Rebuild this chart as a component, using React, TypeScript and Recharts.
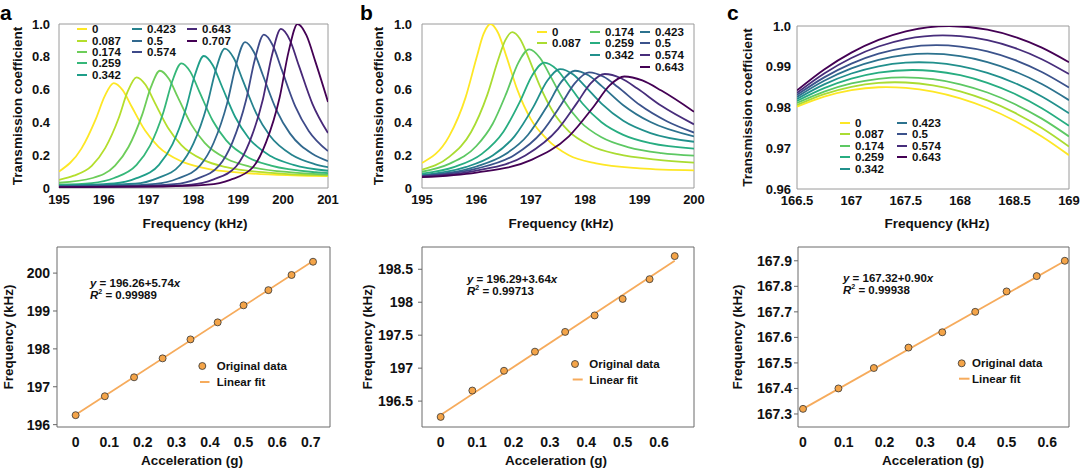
import React from 'react';
import { LineChart, ComposedChart, Line, Scatter, XAxis, YAxis, ReferenceArea, Legend, Label } from 'recharts';

const FONT = '"Liberation Sans", Arial, Helvetica, sans-serif';
type P = [number, number];

// ---------------- Panel a (top) ----------------
const A_NAMES = ['0', '0.087', '0.174', '0.259', '0.342', '0.423', '0.5', '0.574', '0.643', '0.707'];
const A_COLORS = ['#FDE725', '#B4DE2C', '#6DCD59', '#35B779', '#1F9E89', '#26828E', '#31688E', '#3E4A89', '#482878', '#440154'];
const A_0: P[] = [[195, 0.1], [195.5, 0.24], [195.82, 0.42], [196.02, 0.56], [196.22, 0.64], [196.42, 0.597], [196.62, 0.497], [196.92, 0.35], [197.22, 0.251], [197.72, 0.164], [198.22, 0.123], [199.22, 0.09], [200.22, 0.077], [201, 0.072]];
const A_1: P[] = [[195, 0.05], [195.33, 0.075], [195.73, 0.135], [196.03, 0.243], [196.33, 0.425], [196.53, 0.587], [196.73, 0.675], [196.93, 0.629], [197.13, 0.524], [197.43, 0.368], [197.73, 0.262], [198.23, 0.17], [198.73, 0.127], [199.73, 0.092], [200.73, 0.078], [201, 0.077]];
const A_2: P[] = [[195, 0.032], [195.75, 0.061], [196.25, 0.136], [196.55, 0.25], [196.85, 0.443], [197.05, 0.615], [197.25, 0.715], [197.45, 0.666], [197.65, 0.554], [197.95, 0.388], [198.25, 0.275], [198.75, 0.177], [199.25, 0.131], [200.25, 0.094], [201, 0.082]];
const A_3: P[] = [[195, 0.02], [195.73, 0.03], [196.23, 0.061], [196.73, 0.141], [197.03, 0.258], [197.33, 0.464], [197.53, 0.654], [197.73, 0.76], [197.93, 0.708], [198.13, 0.588], [198.43, 0.41], [198.73, 0.29], [199.23, 0.185], [199.73, 0.136], [200.73, 0.096], [201, 0.091]];
const A_4: P[] = [[195, 0.015], [196.23, 0.028], [196.73, 0.06], [197.23, 0.141], [197.53, 0.266], [197.83, 0.483], [198.03, 0.688], [198.23, 0.805], [198.43, 0.749], [198.63, 0.622], [198.93, 0.433], [199.23, 0.305], [199.73, 0.193], [200.23, 0.141], [201, 0.105]];
const A_5: P[] = [[195, 0.012], [196.7, 0.026], [197.2, 0.06], [197.7, 0.14], [198.0, 0.272], [198.3, 0.502], [198.5, 0.723], [198.7, 0.85], [198.9, 0.791], [199.1, 0.656], [199.4, 0.455], [199.7, 0.32], [200.2, 0.201], [200.7, 0.146], [201, 0.127]];
const A_6: P[] = [[195, 0.01], [196.15, 0.012], [197.15, 0.025], [197.65, 0.058], [198.15, 0.138], [198.45, 0.276], [198.75, 0.516], [198.95, 0.752], [199.15, 0.89], [199.35, 0.828], [199.55, 0.686], [199.85, 0.475], [200.15, 0.333], [200.65, 0.209], [201, 0.164]];
const A_7: P[] = [[195, 0.008], [196.57, 0.011], [197.57, 0.023], [198.07, 0.056], [198.57, 0.136], [198.87, 0.28], [199.17, 0.533], [199.37, 0.785], [199.57, 0.935], [199.77, 0.869], [199.97, 0.72], [200.27, 0.498], [200.57, 0.348], [201, 0.225]];
const A_8: P[] = [[195, 0.006], [196.95, 0.01], [197.95, 0.021], [198.45, 0.053], [198.95, 0.131], [199.25, 0.281], [199.55, 0.543], [199.75, 0.81], [199.95, 0.97], [200.15, 0.902], [200.35, 0.746], [200.65, 0.515], [201, 0.335]];
const A_9: P[] = [[195, 0.005], [197.32, 0.009], [198.32, 0.02], [198.82, 0.05], [199.32, 0.125], [199.62, 0.28], [199.92, 0.55], [200.12, 0.83], [200.32, 1.0], [200.52, 0.93], [200.72, 0.769], [201, 0.525]];
const A_CURVES = [A_0, A_1, A_2, A_3, A_4, A_5, A_6, A_7, A_8, A_9];
const A_XTICKS = [195, 196, 197, 198, 199, 200, 201];
const A_XLABELS = ['195', '196', '197', '198', '199', '200', '201'];
const A_YTICKS = [0, 0.2, 0.4, 0.6, 0.8, 1];
const A_YLABELS = ['0', '0.2', '0.4', '0.6', '0.8', '1.0'];

// ---------------- Panel b (top) ----------------
const B_NAMES = ['0', '0.087', '0.174', '0.259', '0.342', '0.423', '0.5', '0.574', '0.643'];
const B_COLORS = ['#FDE725', '#AADC32', '#5DC863', '#27AD81', '#21908C', '#2C728E', '#3B528B', '#472D7B', '#440154'];
const B_0: P[] = [[195, 0.153], [195.5, 0.316], [195.8, 0.551], [196.0, 0.791], [196.13, 0.938], [196.26, 1.0], [196.4, 0.945], [196.55, 0.804], [196.75, 0.601], [197.0, 0.42], [197.3, 0.297], [197.7, 0.2], [198.2, 0.15], [199.0, 0.12], [200, 0.108]];
const B_1: P[] = [[195, 0.112], [195.5, 0.19], [195.9, 0.34], [196.2, 0.568], [196.4, 0.782], [196.53, 0.9], [196.66, 0.95], [196.8, 0.91], [196.96, 0.794], [197.16, 0.627], [197.4, 0.469], [197.7, 0.345], [198.1, 0.258], [198.6, 0.206], [199.3, 0.173], [200, 0.155]];
const B_2: P[] = [[195, 0.099], [195.5, 0.147], [196.0, 0.256], [196.3, 0.392], [196.55, 0.577], [196.77, 0.763], [196.97, 0.845], [197.17, 0.793], [197.37, 0.676], [197.6, 0.538], [197.9, 0.407], [198.3, 0.309], [198.8, 0.248], [199.4, 0.213], [200, 0.197]];
const B_3: P[] = [[195, 0.087], [195.6, 0.129], [196.1, 0.208], [196.5, 0.345], [196.8, 0.527], [197.03, 0.689], [197.25, 0.765], [197.47, 0.725], [197.7, 0.627], [197.95, 0.515], [198.3, 0.401], [198.7, 0.324], [199.2, 0.273], [200, 0.24]];
const B_4: P[] = [[195, 0.079], [195.8, 0.127], [196.3, 0.198], [196.7, 0.315], [197.05, 0.496], [197.3, 0.652], [197.54, 0.725], [197.78, 0.692], [198.0, 0.62], [198.3, 0.515], [198.7, 0.41], [199.2, 0.335], [200, 0.282]];
const B_5: P[] = [[195, 0.075], [196, 0.131], [196.5, 0.199], [196.95, 0.325], [197.3, 0.499], [197.56, 0.647], [197.81, 0.715], [198.06, 0.687], [198.31, 0.62], [198.7, 0.505], [199.2, 0.402], [200, 0.315]];
const B_6: P[] = [[195, 0.073], [196, 0.118], [196.7, 0.201], [197.2, 0.339], [197.55, 0.504], [197.8, 0.635], [198.07, 0.705], [198.34, 0.678], [198.6, 0.616], [199.0, 0.507], [199.5, 0.407], [200, 0.338]];
const B_7: P[] = [[195, 0.07], [196, 0.106], [196.9, 0.198], [197.5, 0.359], [197.85, 0.519], [198.1, 0.638], [198.36, 0.695], [198.66, 0.669], [198.96, 0.606], [199.4, 0.501], [200, 0.388]];
const B_8: P[] = [[195, 0.066], [196, 0.094], [197, 0.17], [197.7, 0.315], [198.15, 0.494], [198.45, 0.626], [198.72, 0.68], [199.05, 0.656], [199.4, 0.594], [200, 0.465]];
const B_CURVES = [B_0, B_1, B_2, B_3, B_4, B_5, B_6, B_7, B_8];
const B_XTICKS = [195, 196, 197, 198, 199, 200];
const B_XLABELS = ['195', '196', '197', '198', '199', '200'];

// ---------------- Panel c (top) ----------------
const C_0: P[] = [[166.5, 0.9802], [166.75, 0.98268], [167.0, 0.98427], [167.25, 0.98497], [167.32, 0.985], [167.5, 0.98481], [167.75, 0.98391], [168.0, 0.98226], [168.25, 0.97988], [168.5, 0.97676], [168.75, 0.97289], [169, 0.9683]];
const C_1: P[] = [[166.5, 0.9806], [166.75, 0.98328], [167.0, 0.98509], [167.25, 0.98604], [167.4, 0.9862], [167.5, 0.98614], [167.75, 0.98544], [168.0, 0.98398], [168.25, 0.98174], [168.5, 0.97873], [168.75, 0.97496], [169, 0.9704]];
const C_2: P[] = [[166.5, 0.9811], [166.75, 0.9839], [167.0, 0.98589], [167.25, 0.98705], [167.48, 0.9874], [167.75, 0.98694], [168.0, 0.9857], [168.25, 0.98368], [168.5, 0.98087], [168.75, 0.97727], [169, 0.9729]];
const C_3: P[] = [[166.5, 0.9816], [166.75, 0.98476], [167.0, 0.98708], [167.25, 0.98855], [167.56, 0.9892], [167.75, 0.98896], [168.0, 0.98792], [168.25, 0.98605], [168.5, 0.98336], [168.75, 0.97984], [169, 0.9755]];
const C_4: P[] = [[166.5, 0.9821], [166.75, 0.98567], [167.0, 0.98834], [167.25, 0.99012], [167.5, 0.991], [167.62, 0.9911], [167.75, 0.99099], [168.0, 0.99015], [168.25, 0.9885], [168.5, 0.98602], [168.75, 0.98272], [169, 0.9786]];
const C_5: P[] = [[166.5, 0.9826], [166.75, 0.98656], [167.0, 0.98959], [167.25, 0.99171], [167.5, 0.99291], [167.7, 0.9932], [168.0, 0.99259], [168.25, 0.99116], [168.5, 0.98888], [168.75, 0.98576], [169, 0.9818]];
const C_6: P[] = [[166.5, 0.9831], [166.75, 0.9874], [167.0, 0.99077], [167.25, 0.99321], [167.5, 0.99472], [167.78, 0.9953], [168.0, 0.99496], [168.25, 0.99376], [168.5, 0.99168], [168.75, 0.98872], [169, 0.9849]];
const C_7: P[] = [[166.5, 0.9836], [166.75, 0.98837], [167.0, 0.99216], [167.25, 0.99497], [167.5, 0.99679], [167.84, 0.9977], [168.0, 0.99752], [168.25, 0.99651], [168.5, 0.99462], [168.75, 0.99185], [169, 0.9882]];
const C_8: P[] = [[166.5, 0.9842], [166.75, 0.98934], [167.0, 0.99347], [167.25, 0.99659], [167.5, 0.99871], [167.9, 1.0], [168.25, 0.9991], [168.5, 0.99735], [168.75, 0.99468], [169, 0.9911]];
const C_CURVES = [C_0, C_1, C_2, C_3, C_4, C_5, C_6, C_7, C_8];
const C_XTICKS = [166.5, 167, 167.5, 168, 168.5, 169];
const C_XLABELS = ['166.5', '167', '167.5', '168', '168.5', '169'];
const C_YTICKS = [0.96, 0.97, 0.98, 0.99, 1.0];
const C_YLABELS = ['0.96', '0.97', '0.98', '0.99', '1.0'];

// ---------------- Bottom panels ----------------
const ACC_A = [0, 0.087, 0.174, 0.259, 0.342, 0.423, 0.5, 0.574, 0.643, 0.707];
const FREQ_A = [196.25, 196.75, 197.25, 197.75, 198.25, 198.7, 199.15, 199.55, 199.95, 200.3];
const FIT_A: P[] = [[0, 196.26], [0.707, 200.318]];
const ACC_B = [0, 0.087, 0.174, 0.259, 0.342, 0.423, 0.5, 0.574, 0.643];
const FREQ_B = [196.26, 196.66, 196.96, 197.25, 197.55, 197.8, 198.05, 198.35, 198.7];
const FIT_B: P[] = [[0, 196.29], [0.643, 198.631]];
const FREQ_C = [167.32, 167.4, 167.48, 167.56, 167.62, 167.7, 167.78, 167.84, 167.9];
const FIT_C: P[] = [[0, 167.32], [0.643, 167.899]];

const DA_XTICKS = [0, 0.1, 0.2, 0.3, 0.4, 0.5, 0.6, 0.7];
const DA_XLABELS = ['0', '0.1', '0.2', '0.3', '0.4', '0.5', '0.6', '0.7'];
const DA_YTICKS = [196, 197, 198, 199, 200];
const DA_YLABELS = ['196', '197', '198', '199', '200'];
const DB_XTICKS = [0, 0.1, 0.2, 0.3, 0.4, 0.5, 0.6];
const DB_XLABELS = ['0', '0.1', '0.2', '0.3', '0.4', '0.5', '0.6'];
const DB_YTICKS = [196.5, 197, 197.5, 198, 198.5];
const DB_YLABELS = ['196.5', '197', '197.5', '198', '198.5'];
const DC_YTICKS = [167.3, 167.4, 167.5, 167.6, 167.7, 167.8, 167.9];
const DC_YLABELS = ['167.3', '167.4', '167.5', '167.6', '167.7', '167.8', '167.9'];

const EQ_A = ['196.26+5.74', '0.99989'];
const EQ_B = ['196.29+3.64', '0.99713'];
const EQ_C = ['167.32+0.90', '0.99938'];

const toPts = (arr: P[]) => arr.map(([x, y]) => ({ x, y }));
const zip = (xs: number[], ys: number[]) => xs.map((x, i) => ({ x, y: ys[i] }));
const fmt = (ticks: number[], labels: string[]) => (v: number) => {
  const i = ticks.findIndex((t) => Math.abs(t - v) < 1e-9);
  return i >= 0 ? labels[i] : String(v);
};

const titleStyle: React.CSSProperties = { fontFamily: FONT, fontWeight: 700, fontSize: 13.5, fill: '#111' };
const letterStyle: React.CSSProperties = { fontFamily: FONT, fontWeight: 700, fontSize: 21, fill: '#000' };

function TopLegend({ w, h, cols, names, colors, rowY, step }: any) {
  return (
    <div style={{ position: 'relative', width: w, height: h, fontFamily: FONT, fontWeight: 700, color: '#111' }}>
      {cols.map((col: any, ci: number) =>
        col.items.map((idx: number, ri: number) => {
          const cy = rowY + ri * step;
          return (
            <React.Fragment key={ci + '-' + ri}>
              <div style={{ position: 'absolute', left: col.x, top: cy - 1, width: 10, height: 2, background: colors[idx] }} />
              <div style={{ position: 'absolute', left: col.x + 15, top: cy - 7, fontSize: 11.5, lineHeight: '14px', whiteSpace: 'nowrap' }}>{names[idx]}</div>
            </React.Fragment>
          );
        })
      )}
    </div>
  );
}

function TopPanel(p: any) {
  const { left, top, width, height, margin, yW, xH, xDomain, xTicks, xLabels, yDomain, yTicks, yLabels, curves, names, colors, legend, xTitleX, yTitleX, yTick, letter, letterX } = p;
  const plotTop = margin.top;
  const plotBottom = height - xH;
  const yc = (plotTop + plotBottom) / 2;
  return (
    <div style={{ position: 'absolute', left, top, width, height }}>
      <LineChart width={width} height={height} margin={margin}>
        <XAxis type="number" dataKey="x" domain={xDomain} ticks={xTicks} tickFormatter={fmt(xTicks, xLabels)} allowDataOverflow interval={0}
          axisLine={false} tickLine={false} tickSize={2} tickMargin={5} height={xH}
          tick={{ fill: '#111', fontSize: 13, fontWeight: 700, fontFamily: FONT }}>
          <Label content={() => (
            <g>
              <text x={xTitleX} y={228} textAnchor="middle" style={titleStyle}>Frequency (kHz)</text>
              <text x={letterX} y={19.5} textAnchor="start" style={letterStyle}>{letter}</text>
            </g>
          )} />
        </XAxis>
        <YAxis type="number" domain={yDomain} ticks={yTicks} tickFormatter={fmt(yTicks, yLabels)} allowDataOverflow interval={0}
          axisLine={false} tickLine={false} tickSize={yTick[0]} tickMargin={yTick[1]} width={yW}
          tick={{ fill: '#111', fontSize: 13, fontWeight: 700, fontFamily: FONT }}>
          <Label content={() => <text x={yTitleX} y={yc} textAnchor="middle" dominantBaseline="central" transform={`rotate(-90 ${yTitleX} ${yc})`} style={titleStyle}>Transmission coefficient</text>} />
        </YAxis>
        {curves.map((c: P[], i: number) => (
          <Line key={i} data={toPts(c)} dataKey="y" name={names[i]} type="monotone" stroke={colors[i]} strokeWidth={1.8} dot={false} activeDot={false} isAnimationActive={false} />
        ))}
        <ReferenceArea x1={xDomain[0]} x2={xDomain[1]} y1={yDomain[0]} y2={yDomain[1]} fill="none" stroke="#9a9a9a" strokeWidth={1} ifOverflow="visible" />
        <Legend verticalAlign="middle" align="center" layout="horizontal" wrapperStyle={{ left: 0, top: 0, width, height, pointerEvents: 'none' }}
          content={() => <TopLegend w={width} h={height} names={names} colors={colors} {...legend} />} />
      </LineChart>
    </div>
  );
}

function BottomLegend({ w, h, eq, eqX, eqY, mk, txt, ln }: any) {
  return (
    <div style={{ position: 'relative', width: w, height: h, fontFamily: FONT, fontWeight: 700, color: '#111', fontSize: 11.5 }}>
      <div style={{ position: 'absolute', left: eqX, top: eqY - 7, lineHeight: '14px', whiteSpace: 'nowrap' }}>
        <i>y</i> = {eq[0]}<i>x</i>
      </div>
      <div style={{ position: 'absolute', left: eqX, top: eqY + 5, lineHeight: '14px', whiteSpace: 'nowrap' }}>
        <i>R</i><span style={{ fontSize: 7, position: 'relative', top: -5 }}>2</span> = {eq[1]}
      </div>
      <svg style={{ position: 'absolute', left: 0, top: 0, overflow: 'visible' }} width={w} height={h}>
        <circle cx={mk[0]} cy={mk[1]} r={3.5} fill="#f4a448" stroke="#333" strokeWidth={0.8} />
        <line x1={ln[0]} x2={ln[1]} y1={ln[2]} y2={ln[2]} stroke="#f6ab5c" strokeWidth={2} />
      </svg>
      <div style={{ position: 'absolute', left: txt, top: mk[1] - 7, lineHeight: '14px', whiteSpace: 'nowrap' }}>Original data</div>
      <div style={{ position: 'absolute', left: txt, top: ln[2] - 7, lineHeight: '14px', whiteSpace: 'nowrap' }}>Linear fit</div>
    </div>
  );
}

function BottomPanel(p: any) {
  const { left, top, width, height, margin, yW, xH, xDomain, xTicks, xLabels, yDomain, yTicks, yLabels, pts, fit, legend, xTitleX, yTitleX, yTick } = p;
  const plotTop = margin.top;
  const plotBottom = height - xH;
  const yc = (plotTop + plotBottom) / 2;
  return (
    <div style={{ position: 'absolute', left, top, width, height }}>
      <ComposedChart width={width} height={height} margin={margin}>
        <XAxis type="number" dataKey="x" domain={xDomain} ticks={xTicks} tickFormatter={fmt(xTicks, xLabels)} allowDataOverflow interval={0}
          axisLine={false} tickLine={false} tickSize={4} tickMargin={6.5} height={xH}
          tick={{ fill: '#111', fontSize: 14, fontWeight: 700, fontFamily: FONT }}>
          <Label content={() => <text x={xTitleX} y={225} textAnchor="middle" style={titleStyle}>Acceleration (g)</text>} />
        </XAxis>
        <YAxis type="number" dataKey="y" domain={yDomain} ticks={yTicks} tickFormatter={fmt(yTicks, yLabels)} allowDataOverflow interval={0}
          axisLine={false} tickLine={{ stroke: '#666', strokeWidth: 1 }} tickSize={4} tickMargin={yTick} width={yW}
          tick={{ fill: '#111', fontSize: 14, fontWeight: 700, fontFamily: FONT }}>
          <Label content={() => <text x={yTitleX} y={yc} textAnchor="middle" dominantBaseline="central" transform={`rotate(-90 ${yTitleX} ${yc})`} style={titleStyle}>Frequency (kHz)</text>} />
        </YAxis>
        <Line data={toPts(fit)} dataKey="y" type="linear" stroke="#f6ab5c" strokeWidth={1.8} dot={false} activeDot={false} isAnimationActive={false} />
        <Scatter data={pts} dataKey="y" isAnimationActive={false}
          shape={(s: any) => <circle cx={s.cx} cy={s.cy} r={3.5} fill="#f4a448" stroke="#333" strokeWidth={0.8} />} />
        <ReferenceArea x1={xDomain[0]} x2={xDomain[1]} y1={yDomain[0]} y2={yDomain[1]} fill="none" stroke="#6a6a6a" strokeWidth={1} ifOverflow="visible" />
        <Legend verticalAlign="middle" align="center" layout="horizontal" wrapperStyle={{ left: 0, top: 0, width, height, pointerEvents: 'none' }}
          content={() => <BottomLegend w={width} h={height} {...legend} />} />
      </ComposedChart>
    </div>
  );
}

export default function App() {
  return (
    <div style={{ position: 'absolute', left: 0, top: 0, width: 1080, height: 471, background: '#fff', overflow: 'hidden' }}>
      <TopPanel left={0} top={0} width={340} height={240} margin={{ top: 24, right: 12, bottom: 0, left: 0 }} yW={59} xH={52}
        xDomain={[195, 201]} xTicks={A_XTICKS} xLabels={A_XLABELS} yDomain={[0, 1]} yTicks={A_YTICKS} yLabels={A_YLABELS}
        curves={A_CURVES} names={A_NAMES} colors={A_COLORS} xTitleX={195} yTitleX={17} yTick={[3, 6]} letter="a" letterX={0}
        legend={{ rowY: 29.3, step: 11.3, cols: [{ x: 77, items: [0, 1, 2, 3, 4] }, { x: 132, items: [5, 6, 7] }, { x: 187, items: [8, 9] }] }} />
      <TopPanel left={360} top={0} width={345} height={240} margin={{ top: 24, right: 11, bottom: 0, left: 0 }} yW={62} xH={52}
        xDomain={[195, 200]} xTicks={B_XTICKS} xLabels={B_XLABELS} yDomain={[0, 1]} yTicks={A_YTICKS} yLabels={A_YLABELS}
        curves={B_CURVES} names={B_NAMES} colors={B_COLORS} xTitleX={201} yTitleX={18} yTick={[3, 7]} letter="b" letterX={0}
        legend={{ rowY: 31.7, step: 11.7, cols: [{ x: 177, items: [0, 1] }, { x: 230, items: [2, 3, 4] }, { x: 280, items: [5, 6, 7, 8] }] }} />
      <TopPanel left={720} top={0} width={360} height={240} margin={{ top: 26, right: 11, bottom: 0, left: 0 }} yW={77} xH={51}
        xDomain={[166.5, 169]} xTicks={C_XTICKS} xLabels={C_XLABELS} yDomain={[0.96, 1.0]} yTicks={C_YTICKS} yLabels={C_YLABELS}
        curves={C_CURVES} names={B_NAMES} colors={B_COLORS} xTitleX={217} yTitleX={27} yTick={[2, 4]} letter="c" letterX={7}
        legend={{ rowY: 122.7, step: 11.5, cols: [{ x: 120, items: [0, 1, 2, 3, 4] }, { x: 177, items: [5, 6, 7, 8] }] }} />

      <BottomPanel left={0} top={240} width={340} height={231} margin={{ top: 7, right: 10, bottom: 0, left: 0 }} yW={57} xH={44}
        xDomain={[-0.0555, 0.7575]} xTicks={DA_XTICKS} xLabels={DA_XLABELS} yDomain={[195.938, 200.689]} yTicks={DA_YTICKS} yLabels={DA_YLABELS}
        pts={zip(ACC_A, FREQ_A)} fit={FIT_A} xTitleX={192} yTitleX={8} yTick={3}
        legend={{ eq: EQ_A, eqX: 90, eqY: 43, mk: [202.3, 126], txt: 216.7, ln: [200, 209.5, 142] }} />
      <BottomPanel left={360} top={240} width={345} height={231} margin={{ top: 7, right: 11, bottom: 0, left: 0 }} yW={62} xH={44}
        xDomain={[-0.0513, 0.696]} xTicks={DB_XTICKS} xLabels={DB_XLABELS} yDomain={[196.107, 198.838]} yTicks={DB_YTICKS} yLabels={DB_YLABELS}
        pts={zip(ACC_B, FREQ_B)} fit={FIT_B} xTitleX={196} yTitleX={7} yTick={5}
        legend={{ eq: EQ_B, eqX: 107, eqY: 39, mk: [215, 124], txt: 229.3, ln: [212.7, 222.7, 139.5] }} />
      <BottomPanel left={720} top={240} width={360} height={231} margin={{ top: 7, right: 11, bottom: 0, left: 0 }} yW={78} xH={44}
        xDomain={[-0.0123, 0.6533]} xTicks={DB_XTICKS} xLabels={DB_XLABELS} yDomain={[167.249, 167.954]} yTicks={DC_YTICKS} yLabels={DC_YLABELS}
        pts={zip(ACC_B, FREQ_C)} fit={FIT_C} xTitleX={213} yTitleX={17} yTick={2}
        legend={{ eq: EQ_C, eqX: 123, eqY: 38, mk: [241.7, 123.3], txt: 252, ln: [239, 249.5, 138.7] }} />
    </div>
  );
}
